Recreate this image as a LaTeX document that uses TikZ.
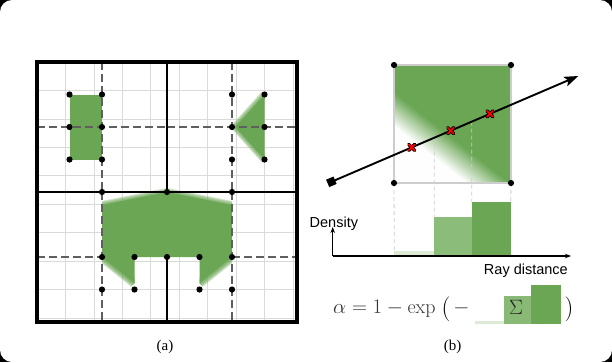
\documentclass[tikz,border=0pt]{standalone}
\usepackage{fontspec}
\newfontfamily\sansf{Liberation Sans}
\newfontfamily\seriff{Liberation Serif}
\usetikzlibrary{arrows.meta}
\definecolor{gr}{RGB}{106,166,84}
\definecolor{grmid}{RGB}{139,188,122}
\definecolor{grlight}{RGB}{221,234,214}
\definecolor{dashgray}{RGB}{95,95,95}
\definecolor{gridgray}{RGB}{218,218,218}
\definecolor{sqgray}{RGB}{205,205,205}
\tikzset{
  gridline/.style={gridgray, line width=0.7pt},
  cellbound/.style={dashgray, line width=2pt, dash pattern=on 8pt off 4pt},
  wall/.style={black, line width=2.8pt},
  dot/.style={circle, fill=black, inner sep=0pt, minimum size=6.2pt},
  soft/.style={gr, opacity=.3, line join=round},
  vdash/.style={sqgray, line width=0.8pt, dash pattern=on 4pt off 3pt},
  bar/.style={inner sep=0pt, outer sep=0pt, anchor=south west},
  axisline/.style={black, line width=1.1pt, -{Stealth[length=6pt,width=4.5pt]}},
  pics/redx/.style={code={
    \draw[black, line width=3.4pt, line cap=round] (-3,-3) -- (3,3) (-3,3) -- (3,-3);
    \draw[red, line width=1.7pt, line cap=round] (-3,-3) -- (3,3) (-3,3) -- (3,-3);
  }}
}
\begin{document}
\begin{tikzpicture}[x=1pt, y=-1pt]
\useasboundingbox (0,0) rectangle (612,362);
\fill[black] (0,0) rectangle (612,362);
\fill[white, rounded corners=12pt] (0,0) rectangle (612,362);

% ---------------- (a) left panel ----------------
\begin{scope}[shift={(37,62)}, x=32.5pt, y=-32.5pt]
  \draw[gridline] (0,0) grid (8,8);
  % green regions
  \fill[gr] (1,1) rectangle (2,3);
  \fill[gr] (7,1) -- (7,3) -- (6.1,2) -- cycle;
  \begin{scope}
    \clip (5,0) rectangle (7,4);
    \foreach \w in {2,4,6,8} \draw[soft, line width=\w pt] (7,1) -- (6.1,2) -- (7,3);
  \end{scope}
  \fill[gr] (2,4.4) -- (4,4) -- (6,4.4) -- (6,6) -- (5,6.8) -- (5,6) -- (3,6) -- (3,6.8) -- (2,6) -- cycle;
  \begin{scope}
    \clip (2,3.8) rectangle (6,5);
    \foreach \w in {2,4,6,8} \draw[soft, line width=\w pt] (2,4.4) -- (4,4) -- (6,4.4);
  \end{scope}
  \begin{scope}
    \clip (2,6) rectangle (3,7.2) (5,6) rectangle (6,7.2);
    \foreach \w in {2,4,6,8,10} \draw[soft, line width=\w pt] (2,6) -- (3,6.8) (5,6.8) -- (6,6);
  \end{scope}
  % dashed cell boundaries
  \draw[cellbound] (2,0) -- (2,4) (0,2) -- (4,2) (6,0) -- (6,4) (4,2) -- (8,2)
                   (2,4) -- (2,8) (6,4) -- (6,8) (0,6) -- (2,6) (6,6) -- (8,6);
  % solid walls
  \draw[wall, line width=3.1pt] (0,0) rectangle (8,8);
  \draw[wall] (4,0) -- (4,4) (0,4) -- (8,4) (4,6) -- (4,8);
  % vertices
  \foreach \i/\j in {1/1,2/1,1/2,2/2,1/3,2/3,6/1,7/1,6/2,7/2,6/3,7/3,
                  2/4,4/4,6/4,2/6,3/6,4/6,5/6,6/6,2/7,3/7,5/7,6/7}
    \node[dot] (v-\i-\j) at (\i,\j) {};
\end{scope}
\node[font=\seriff\fontsize{15}{15}\selectfont, anchor=base, inner sep=0] (capa) at (165,350) {(a)};

% ---------------- (b) right panel ----------------
\coordinate (A) at (394,65);
\coordinate (B) at (511,65);
\coordinate (C) at (394,183);
\coordinate (D) at (511,183);
\begin{scope}
  \clip (A) rectangle (D);
  \fill[gr] (A) rectangle (D);
  \foreach \t in {12,10.5,...,-14}{
    \pgfmathtruncatemacro\p{100*(\t+14)/27}
    \fill[gr!\p!white]
      ({394+0.616*\t+315.2},{108-0.788*\t+246.4}) --
      ({394+0.616*\t-315.2},{108-0.788*\t-246.4}) --
      ++(-246.4,315.2) --
      ({394+0.616*\t+315.2-246.4},{108-0.788*\t+246.4+315.2}) -- cycle;
  }
\end{scope}
\draw[sqgray, line width=1.8pt] (A) rectangle (D);

% histogram
\coordinate (O) at (332.7,256);
\coordinate (yend) at (332.7,227);
\coordinate (xend) at (571,256);
\node[bar, fill=grlight, minimum width=40pt, minimum height=5pt] (lbar) at (394.3,256) {};
\node[bar, fill=grmid, minimum width=37.4pt, minimum height=39.3pt] (mbar) at (434.3,256) {};
\node[bar, fill=gr, minimum width=39pt, minimum height=54pt] (dbar) at (471.7,256) {};
\draw[axisline] (O) -- (yend);
\draw[axisline] (O) -- (xend);
\node[font=\sansf\fontsize{14.5}{14.5}\selectfont, anchor=base west, inner sep=0] (dens) at (309.5,227) {Density};
\node[font=\sansf\fontsize{14.5}{14.5}\selectfont, anchor=base east, inner sep=0] (rayd) at (568,274) {Ray distance};

% ray
\coordinate (rs) at (327.7,183.4);
\coordinate (re) at (578.3,76);
\path (rs) -- (re) coordinate[pos=0.4254] (k1) coordinate[pos=0.5746] (k2)
      coordinate[pos=0.3352] (m1) coordinate[pos=0.4908] (m2) coordinate[pos=0.6476] (m3);
\draw[vdash] (C) -- (lbar.north west);
\draw[vdash] (k1) -- (mbar.north west);
\draw[vdash] (k2) -- (dbar.north west);
\draw[vdash] (D) -- (dbar.north east);
\draw[black, line width=1.9pt, {Square[length=8pt,width=8pt]}-{Stealth[length=14pt,width=10pt,inset=3pt]}] (rs) -- (re);
\pic at (m1) {redx};
\pic at (m2) {redx};
\pic at (m3) {redx};
\foreach \c in {A,B,C,D} \node[dot] (dot\c) at (\c) {};

% formula
\node[anchor=base west, text=black!80, font=\fontsize{20}{20}\selectfont, inner sep=0] (falpha) at (333,313) {$\alpha = 1 - \exp$};
\node[inner sep=0, font=\fontsize{23}{23}\selectfont] (flp) at (446,309) {$\bigl($};
\node[inner sep=0, text=black!80, font=\fontsize{20}{20}\selectfont] (fmin) at (461.5,308) {$-$};
\node[bar, fill=grlight, minimum width=28.5pt, minimum height=3pt] (flbar) at (475,323.5) {};
\node[bar, fill=grmid!90!gr, minimum width=27.5pt, minimum height=27.5pt] (fmbar) at (503.5,323.5) {};
\node[bar, fill=gr, minimum width=29.5pt, minimum height=39pt] (fdbar) at (531,323.5) {};
\node[inner sep=0, text=black!85, font=\fontsize{21}{21}\selectfont] (fsig) at (516,307.5) {$\Sigma$};
\node[inner sep=0, font=\fontsize{23}{23}\selectfont] (frp) at (569,309) {$\bigr)$};
\node[font=\seriff\fontsize{15}{15}\selectfont, anchor=base, inner sep=0] (capb) at (452.5,350) {(b)};
\end{tikzpicture}
\end{document}
